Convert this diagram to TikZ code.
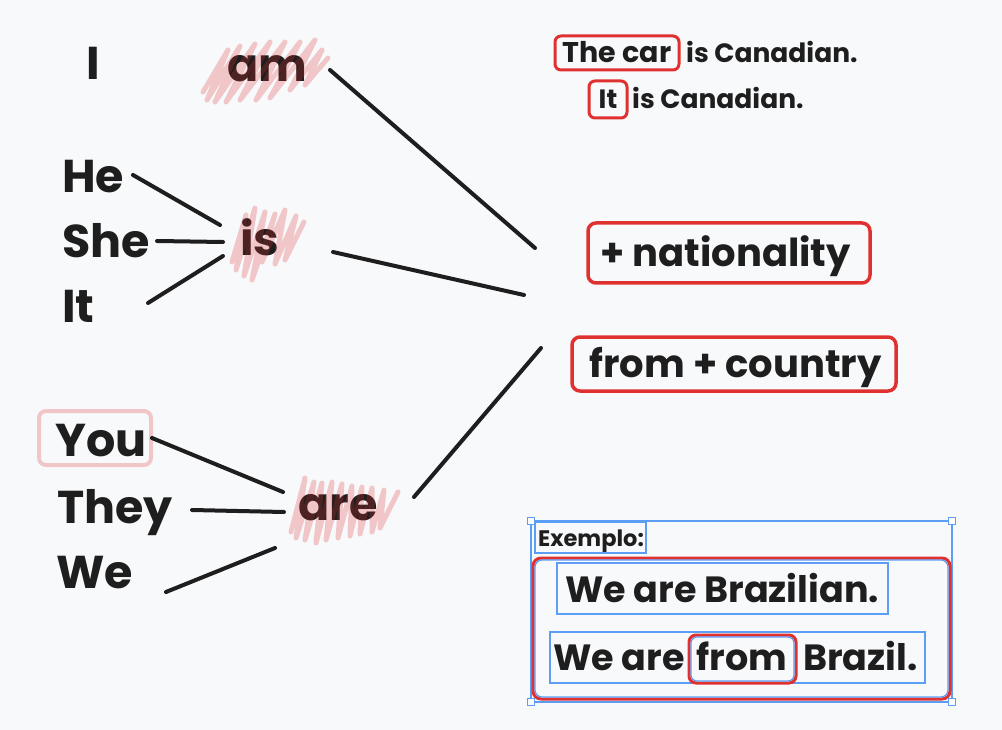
\documentclass[tikz,border=0pt]{standalone}
\usepackage{fontspec}
\setmainfont{Poppins}
\definecolor{ink}{HTML}{1E1E1E}
\definecolor{bg}{HTML}{F8F9FB}
\definecolor{redln}{HTML}{E03131}
\definecolor{selblue}{HTML}{5C9DF5}
\begin{document}
\begin{tikzpicture}[x=1pt,y=-1pt,
  big/.style={font=\fontsize{46}{50}\selectfont\bfseries, text=ink, inner sep=0pt},
  mid/.style={font=\fontsize{38.5}{42}\selectfont\bfseries, text=ink, inner sep=0pt},
  ex/.style={font=\fontsize{36.5}{40}\selectfont\bfseries, text=ink, inner sep=0pt},
  small/.style={font=\fontsize{26.5}{30}\selectfont\bfseries, text=ink, inner sep=0pt},
  tiny/.style={font=\fontsize{22.5}{26}\selectfont\bfseries, text=ink, inner sep=0pt},
  link/.style={draw=ink, line width=4pt, line cap=round},
  redbox/.style={draw=redln, line width=3.5pt, rounded corners=8pt},
  selbox/.style={draw=selblue, line width=1.2pt},
  handle/.style={draw=selblue, fill=white, line width=1pt, minimum size=7pt, inner sep=0pt},
  hatch/.style={draw=redln, line width=5pt, line cap=round, line join=round}
]
\fill[bg] (0,0) rectangle (1002,730);
\useasboundingbox (0,0) rectangle (1002,730);

% pronouns
\node[big, anchor=base] (I) at (93,80) {I};
\node[big, anchor=base west] (am) at (227,82) {am};
\node[big, anchor=base west] (He) at (62,193) {He};
\node[big, anchor=base west] (She) at (62,258) {She};
\node[big, anchor=base west] (It) at (62,323) {It};
\node[big, anchor=base west] (is) at (240,256) {is};
\node[big, anchor=base west] (You) at (55,456) {You};
\node[big, anchor=base west] (They) at (57,523) {They};
\node[big, anchor=base west] (We) at (56,588) {We};
\node[big, anchor=base west] (are) at (298,520) {are};

% hatch highlights
\begin{scope}[transparency group, opacity=0.25]
  \draw[hatch] (203,92) -- (228,50) -- (207,100) -- (240,46) -- (215,102) -- (255,44) -- (226,102) -- (270,42) -- (240,100) -- (285,42) -- (256,100) -- (300,42) -- (270,98) -- (315,40) -- (290,90) -- (322,50) -- (305,85) -- (328,58);
  \draw[hatch] (232,262) -- (246,215) -- (236,270) -- (255,208) -- (244,276) -- (265,212) -- (252,280) -- (275,214) -- (262,262) -- (285,210) -- (275,264) -- (296,216) -- (285,260) -- (304,222);
  \draw[hatch] (291,532) -- (305,478) -- (296,538) -- (314,482) -- (305,540) -- (322,483) -- (316,543) -- (332,482) -- (326,540) -- (342,484) -- (338,538) -- (352,486) -- (350,536) -- (362,487) -- (360,534) -- (372,488) -- (372,532) -- (384,490) -- (380,528) -- (398,492);
\end{scope}

% You box
\draw[draw=redln, draw opacity=0.25, line width=4pt, rounded corners=7pt] (39,411) rectangle (151,465);

% targets
\node[mid, anchor=base west] (nat) at (600,267) {+ nationality};
\draw[redbox] (588,223) rectangle (870,283);
\node[mid, anchor=base west] (country) at (589,377) {from + country};
\draw[redbox] (572,337) rectangle (896,391);

% connector end points
\coordinate (amR) at (330,70);
\coordinate (natL) at (535,248);
\coordinate (isR) at (333,252);
\coordinate (midL) at (524,295);
\coordinate (areR) at (414,497);
\coordinate (ctyL) at (541,348);
\coordinate (HeR) at (133,175);  \coordinate (isL1) at (220,225);
\coordinate (SheR) at (157,241); \coordinate (isL2) at (223,242);
\coordinate (ItR) at (148,303);  \coordinate (isL3) at (223,256);
\coordinate (YouR) at (152,438); \coordinate (areL1) at (283,492);
\coordinate (TheyR) at (192,510);\coordinate (areL2) at (284,512);
\coordinate (WeR) at (166,592);  \coordinate (areL3) at (275,548);

\draw[link] (amR) -- (natL);
\draw[link] (isR) -- (midL);
\draw[link] (areR) -- (ctyL);
\draw[link] (HeR) -- (isL1);
\draw[link] (SheR) -- (isL2);
\draw[link] (ItR) -- (isL3);
\draw[link] (YouR) -- (areL1);
\draw[link] (TheyR) -- (areL2);
\draw[link] (WeR) -- (areL3);

% example sentences top right
\node[small, anchor=base, font=\fontsize{28.5}{30}\selectfont\bfseries] (car) at (617,63) {The car};
\draw[redbox, line width=3pt, rounded corners=6pt] (555,36) rectangle (679,70);
\node[small, anchor=base west] (s1) at (686,63) {is Canadian.};
\node[small, anchor=base] (it2) at (608,109) {It};
\draw[redbox, line width=3pt, rounded corners=6pt] (589,81) rectangle (627,118);
\node[small, anchor=base west] (s2) at (632,109) {is Canadian.};

% Exemplo group
\draw[selbox] (531,521) rectangle (952,702);
\node[tiny, anchor=base west] (exl) at (538,546) {Exemplo:};
\draw[selbox] (535,522) rectangle (646,553);
\draw[redbox, line width=3pt] (533,558) rectangle (950,699);
\draw[draw=selblue, line width=1.2pt, rounded corners=7pt] (535,560) rectangle (948,697);
\node[ex, anchor=base] (b1) at (722,602) {We are Brazilian.};
\draw[selbox] (557,563) rectangle (888,614);
\node[ex, anchor=base east] (b2a) at (685,670) {We are};
\node[ex, anchor=base] (b2b) at (742,670) {from};
\node[ex, anchor=base west] (b2c) at (803,670) {Brazil.};
\draw[selbox] (550,632) rectangle (925,683);
\draw[redbox, line width=3pt, rounded corners=7pt] (689,635) rectangle (796,683);
\draw[draw=selblue, line width=1.2pt, rounded corners=6pt] (691,637) rectangle (794,681);
\foreach \p in {(531,521),(952,521),(531,702),(952,702)}
  \node[handle] at \p {};
\end{tikzpicture}
\end{document}
